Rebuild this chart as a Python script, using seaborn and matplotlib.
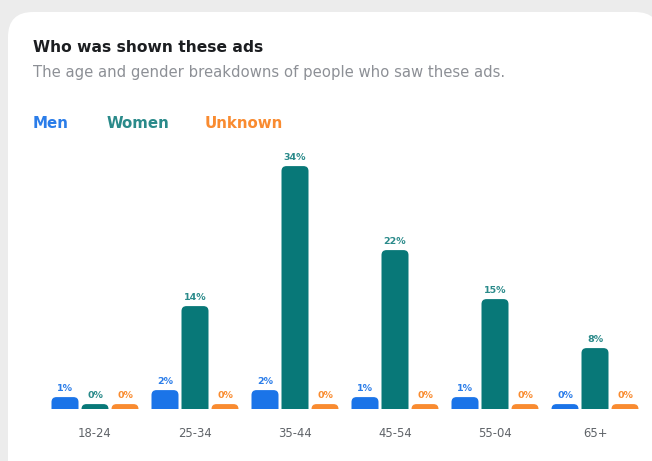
import matplotlib
matplotlib.use("Agg")
import matplotlib.pyplot as plt
from matplotlib.patches import FancyBboxPatch
import numpy as np
import pandas as pd
import seaborn as sns

# Audience breakdown by age group and gender (percent of people reached)
age_groups = ["18-24", "25-34", "35-44", "45-54", "55-64", "65+"]
tick_labels = ["18-24", "25-34", "35-44", "45-54", "55-04", "65+"]
men = [1, 2, 2, 1, 1, 0]
women = [0, 14, 34, 22, 15, 8]
unknown = [0, 0, 0, 0, 0, 0]
genders = ["Men", "Women", "Unknown"]
colors = {"Men": "#1b74e8", "Women": "#087878", "Unknown": "#f98b30"}
label_colors = {"Men": "#2b7de9", "Women": "#2a8a8a", "Unknown": "#f98b30"}

df = pd.DataFrame({
    "age": age_groups * 3,
    "gender": ["Men"] * 6 + ["Women"] * 6 + ["Unknown"] * 6,
    "pct": men + women + unknown,
})

W, H = 652, 461
fig = plt.figure(figsize=(W / 100, H / 100), dpi=100)
fig.patch.set_facecolor("#ececec")

# Card background, drawn in pixel coordinates
bg = fig.add_axes([0, 0, 1, 1])
bg.set_xlim(0, W)
bg.set_ylim(H, 0)
bg.axis("off")
bg.add_patch(FancyBboxPatch((8, 12), 652, 480,
                            boxstyle="round,pad=0,rounding_size=25",
                            facecolor="white", edgecolor="none"))

# Header texts
bg.text(33, 47, "Who was shown these ads", fontsize=11.2, fontweight="bold",
        color="#1c1e21", va="center", ha="left", family="DejaVu Sans")
bg.text(33, 73, "The age and gender breakdowns of people who saw these ads.",
        fontsize=10.7, color="#8d9096", va="center", ha="left", family="DejaVu Sans")
for name, x in zip(genders, [33, 107, 205]):
    bg.text(x, 123, name, fontsize=10.8, fontweight="bold", color=label_colors[name],
            va="center", ha="left", family="DejaVu Sans")

# Chart axes: baseline at pixel row 409, 7 px per percentage point
stub = 0.7
ymax = 36
px_per_unit = 7.0
base_px = 409
ax_h = (ymax + stub) * px_per_unit
ax = fig.add_axes([45 / W, (H - base_px) / H, 600 / W, ax_h / H])

sns.barplot(data=df, x="age", y="pct", hue="gender", hue_order=genders,
            order=age_groups, palette=colors, width=0.9, gap=0.1,
            ax=ax, legend=False)

ax.set_xlim(-0.5, 5.5)
ax.set_ylim(-stub, ymax)

# Replace flat bars with rounded-top bars; the stub below zero keeps empty bars visible
aspect = (1 / px_per_unit) / (1 / 100)
bars = list(ax.patches)
for i, p in enumerate(bars):
    gname = genders[i // len(age_groups)]
    x0, w, h = p.get_x(), p.get_width(), p.get_height()
    p.remove()
    rb = FancyBboxPatch((x0, -4), w, h + 4,
                        boxstyle="round,pad=0,rounding_size=0.05",
                        mutation_aspect=aspect,
                        facecolor=colors[gname], edgecolor="none")
    ax.add_patch(rb)
    rb.set_clip_on(True)
    rb.set_clip_path(ax.patch)
    ax.annotate(f"{int(h)}%", (x0 + w / 2, h), xytext=(0, 3),
                textcoords="offset points", ha="center", va="bottom",
                fontsize=6.8, fontweight="bold", color=label_colors[gname])

ax.set_xticks(range(len(age_groups)))
ax.set_xticklabels(tick_labels)
ax.tick_params(axis="x", length=0, pad=13.2, labelsize=8.4, labelcolor="#5f6368")
ax.set_yticks([])
ax.set_xlabel("")
ax.set_ylabel("")
ax.patch.set_alpha(0)
for s in ax.spines.values():
    s.set_visible(False)

fig.savefig("out.png", dpi=100, facecolor=fig.get_facecolor())
